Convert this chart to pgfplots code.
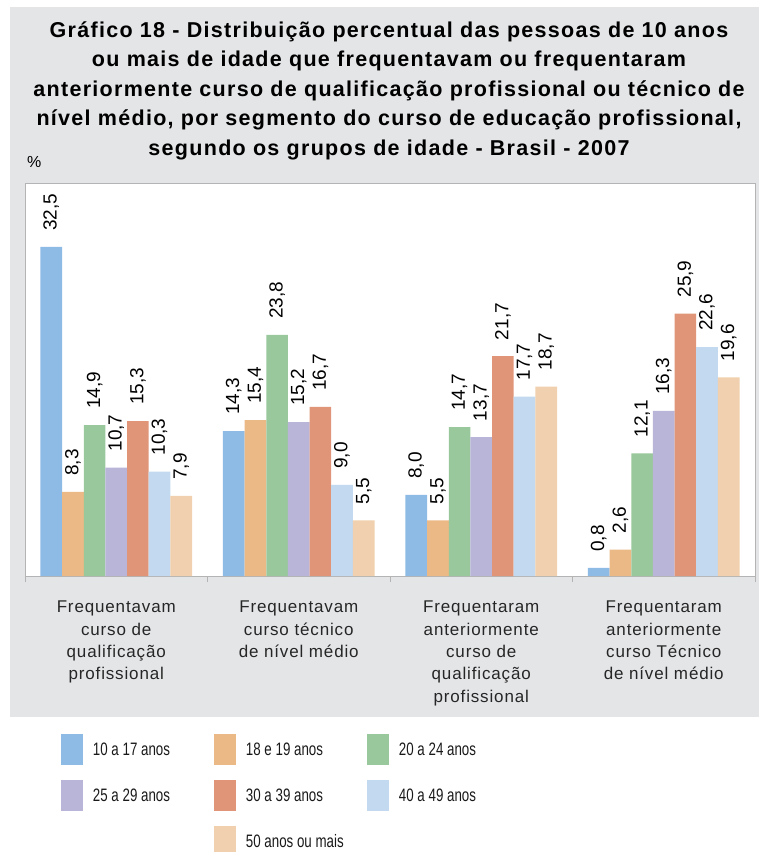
\documentclass[border=0pt]{standalone}
\usepackage{pgfplots}
\pgfplotsset{compat=1.18}
\usepackage{fontspec}
\setmainfont{Liberation Sans}
\newfontfamily\catfont[LetterSpace=5]{Liberation Sans}
\newfontfamily\legfont[FakeStretch=0.74]{Liberation Sans}
\newfontfamily\titlefont[LetterSpace=6]{Liberation Sans}
\definecolor{bggray}{RGB}{228,229,231}
\definecolor{axisgray}{RGB}{180,180,180}
\definecolor{c1}{RGB}{142,187,230}
\definecolor{c2}{RGB}{235,185,133}
\definecolor{c3}{RGB}{153,200,156}
\definecolor{c4}{RGB}{185,181,217}
\definecolor{c5}{RGB}{224,148,120}
\definecolor{c6}{RGB}{195,217,240}
\definecolor{c7}{RGB}{240,208,174}
\begin{document}
\begin{tikzpicture}
\path[use as bounding box] (0,0) rectangle (759bp,-852bp);
\fill[bggray] (10bp,-7bp) rectangle (759bp,-717bp);
\begin{scope}[every node/.style={anchor=base, inner sep=0pt, font=\titlefont\bfseries\fontsize{21.5bp}{25bp}\selectfont}]
\node at (389bp,-37bp) {Gráfico 18 - Distribuição percentual das pessoas de 10 anos};
\node at (389bp,-66.5bp) {ou mais de idade que frequentavam ou frequentaram};
\node at (389bp,-96bp) {anteriormente curso de qualificação profissional ou técnico de};
\node at (389bp,-125.5bp) {nível médio, por segmento do curso de educação profissional,};
\node at (389bp,-155bp) {segundo os grupos de idade - Brasil - 2007};
\end{scope}
\node[anchor=base west, inner sep=0pt, font=\fontsize{16bp}{19bp}\selectfont] at (27bp,-167bp) {\%};
\begin{axis}[
  at={(25bp,-576bp)}, anchor=south west,
  scale only axis, width=730bp, height=393bp,
  xmin=-0.5, xmax=3.5, ymin=0, ymax=38.8,
  ybar=0pt, bar width=0.1186,
  legend image code/.code={\fill[#1] (0bp,-15.5bp) rectangle (22bp,15.5bp);},
  axis line style={draw=axisgray, line width=1bp},
  axis background/.style={fill=white},
  clip=false,
  ytick=\empty,
  xtick={0,1,2,3},
  xtick pos=bottom,
  major tick length=0pt,
  xticklabels={{Frequentavam\\curso de\\qualificação\\profissional},
               {Frequentavam\\curso técnico\\de nível médio},
               {Frequentaram\\anteriormente\\curso de\\qualificação\\profissional},
               {Frequentaram\\anteriormente\\curso Técnico\\de nível médio}},
  xticklabel style={font=\catfont\fontsize{17bp}{22.3bp}\selectfont, align=center, inner sep=0pt, anchor=north, yshift=-25bp, text=black!85},
  extra x ticks={-0.5,0.5,1.5,2.5,3.5},
  extra x tick labels={},
  extra x tick style={major tick length=6bp, tick align=outside},
  tick style={draw=axisgray, line width=1bp},
  /pgf/number format/.cd, fixed, fixed zerofill, precision=1, use comma, assume math mode=true,
  /pgfplots/.cd,
  nodes near coords,
  nodes near coords style={rotate=90, anchor=west, inner xsep=16bp, inner ysep=0pt, font=\fontsize{19bp}{22bp}\selectfont, text=black},
  legend columns=3,
  legend style={at={(axis description cs:0.0493,-0.402)}, anchor=north west, draw=none, fill=none, inner sep=0pt, outer sep=0pt, row sep=15bp,
    nodes={inner sep=0pt, anchor=west, font=\legfont\fontsize{18bp}{20bp}\selectfont, text=black!90},
    /tikz/every odd column/.append style={column sep=10bp},
    /tikz/every even column/.append style={column sep=9bp}},
]
\addplot[fill=c1, draw=none] coordinates {(0,32.5) (1,14.3) (2,8.0) (3,0.8)};
\addlegendentry{\makebox[112bp][l]{10 a 17 anos}}
\addplot[fill=c2, draw=none] coordinates {(0,8.3) (1,15.4) (2,5.5) (3,2.6)};
\addlegendentry{\makebox[112bp][l]{18 e 19 anos}}
\addplot[fill=c3, draw=none] coordinates {(0,14.9) (1,23.8) (2,14.7) (3,12.1)};
\addlegendentry{\makebox[112bp][l]{20 a 24 anos}}
\addplot[fill=c4, draw=none] coordinates {(0,10.7) (1,15.2) (2,13.7) (3,16.3)};
\addlegendentry{\makebox[112bp][l]{25 a 29 anos}}
\addplot[fill=c5, draw=none] coordinates {(0,15.3) (1,16.7) (2,21.7) (3,25.9)};
\addlegendentry{\makebox[112bp][l]{30 a 39 anos}}
\addplot[fill=c6, draw=none] coordinates {(0,10.3) (1,9.0) (2,17.7) (3,22.6)};
\addlegendentry{\makebox[112bp][l]{40 a 49 anos}}
\addlegendimage{empty legend}
\addlegendentry{\makebox[112bp][l]{}}
\addplot[fill=c7, draw=none] coordinates {(0,7.9) (1,5.5) (2,18.7) (3,19.6)};
\addlegendentry{\makebox[112bp][l]{50 anos ou mais}}
\end{axis}
\end{tikzpicture}
\end{document}
